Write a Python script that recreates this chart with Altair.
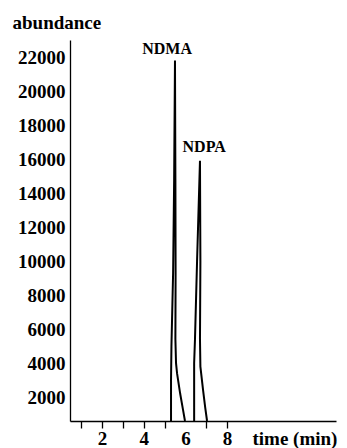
import altair as alt
import pandas as pd

# NDMA peak trace (time in min, abundance)
ndma_t = [5.31, 5.31, 5.33, 5.41, 5.46, 5.50, 5.52, 5.53, 5.52, 5.55, 5.60, 5.75, 5.88, 5.98]
ndma_v = [600, 3000, 5000, 9300, 14800, 21800, 14800, 9300, 5400, 4000, 3400, 2200, 1300, 600]
# NDPA peak trace
ndpa_t = [6.42, 6.42, 6.46, 6.56, 6.70, 6.72, 6.70, 6.72, 6.85, 6.95, 7.04]
ndpa_v = [600, 4000, 5400, 10000, 15900, 10000, 5400, 3800, 2400, 1400, 600]

label_text = ["NDMA", "NDPA"]
label_t = [5.12, 6.90]
label_v = [22470, 16710]

y_ticks = [2000, 4000, 6000, 8000, 10000, 12000, 14000, 16000, 18000, 20000, 22000]
x_ticks = [1, 2, 3, 4, 5, 6, 7, 8]

rows = []
for i, (t, v) in enumerate(zip(ndma_t, ndma_v)):
    rows.append({"peak": "NDMA", "i": i, "t": t, "v": v})
for i, (t, v) in enumerate(zip(ndpa_t, ndpa_v)):
    rows.append({"peak": "NDPA", "i": i, "t": t, "v": v})
df = pd.DataFrame(rows)
labels = pd.DataFrame({"text": label_text, "t": label_t, "v": label_v})

FONT = "Liberation Serif"

xscale = alt.Scale(domain=[0.46, 13.23], nice=False, zero=False)
yscale = alt.Scale(domain=[600, 23000], nice=False, zero=False)

def xaxis():
    return alt.Axis(
        values=x_ticks,
        labelExpr="(datum.value == 2 || datum.value == 4 || datum.value == 6 || datum.value == 8) ? datum.label : ''",
        labelOverlap=False, labelFlush=False,
        tickOpacity={"condition": {"test": "datum.value === 6", "value": 0}, "value": 1},
        grid=False, tickSize=7, tickColor="black", tickWidth=1.3,
        domainColor="black", domainWidth=1.3,
        labelPadding=1,
        title="time (min)", titleAlign="left", titleAnchor="start",
        titleX=182, titleY=23, titleBaseline="alphabetic",
    )

def yaxis():
    return alt.Axis(
        values=y_ticks, format="d",
        labelOverlap=False, labelFlush=False,
        grid=False, ticks=False, domainColor="black", domainWidth=1.3,
        labelPadding=5,
        title="abundance", titleAngle=0, titleAlign="left", titleAnchor="start",
        titleX=-58, titleY=-12, titleBaseline="alphabetic",
    )

lines = alt.Chart(df).mark_line(color="black", strokeWidth=2).encode(
    x=alt.X("t:Q", scale=xscale, axis=xaxis()),
    y=alt.Y("v:Q", scale=yscale, axis=yaxis()),
    detail="peak:N",
    order="i:Q",
)

texts = alt.Chart(labels).mark_text(
    font=FONT, fontSize=16, fontWeight="bold", color="black", baseline="middle", align="center"
).encode(
    x=alt.X("t:Q", scale=xscale, axis=xaxis()),
    y=alt.Y("v:Q", scale=yscale, axis=yaxis()),
    text="text:N",
)

chart = alt.layer(lines, texts).properties(
    width=266, height=381,
    autosize=alt.AutoSizeParams(type="none"),
    padding={"left": 62, "top": 32, "right": 3, "bottom": 27},
    background="white",
).configure_view(stroke=None).configure_axis(
    labelFont=FONT, labelFontSize=19, labelFontWeight="bold", labelColor="black",
    titleFont=FONT, titleFontSize=19, titleFontWeight="bold", titleColor="black",
)

chart.save("out.html", embed_options={"renderer": "svg", "actions": False})
